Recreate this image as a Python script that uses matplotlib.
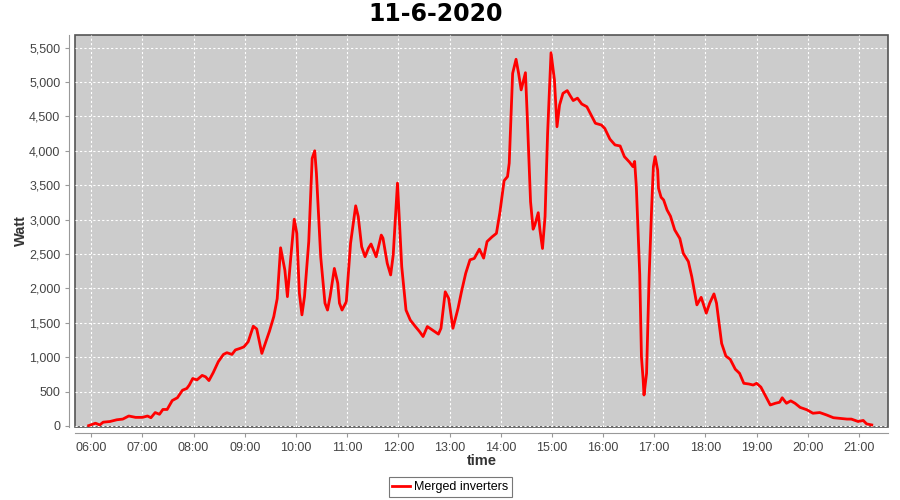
import numpy as np
import matplotlib
matplotlib.use("Agg")
import matplotlib.pyplot as plt
from matplotlib.ticker import FuncFormatter, MultipleLocator

# readings of the merged inverters, 11-6-2020
times = [
    "05:57", "06:05", "06:10", "06:14", "06:22", "06:30", "06:37", "06:44", "06:52", "07:00",
    "07:06", "07:10", "07:15", "07:20", "07:24", "07:29", "07:35", "07:41", "07:47", "07:52",
    "07:55", "07:59", "08:04", "08:10", "08:14", "08:18", "08:23", "08:29", "08:35", "08:39",
    "08:45", "08:49", "08:55", "08:59", "09:04", "09:10", "09:14", "09:20", "09:24", "09:29",
    "09:34", "09:38", "09:42", "09:47", "09:50", "09:54", "09:58", "10:01", "10:04", "10:07",
    "10:10", "10:15", "10:19", "10:22", "10:24", "10:29", "10:34", "10:37", "10:40", "10:45",
    "10:49", "10:51", "10:54", "10:59", "11:04", "11:10", "11:13", "11:17", "11:21", "11:25",
    "11:28", "11:34", "11:40", "11:42", "11:47", "11:51", "11:54", "11:59", "12:04", "12:09",
    "12:14", "12:20", "12:25", "12:29", "12:34", "12:40", "12:47", "12:50", "12:55", "12:59",
    "13:04", "13:10", "13:14", "13:19", "13:24", "13:29", "13:35", "13:40", "13:44", "13:50",
    "13:55", "13:59", "14:04", "14:08", "14:10", "14:14", "14:18", "14:21", "14:24", "14:29",
    "14:31", "14:35", "14:38", "14:40", "14:44", "14:46", "14:49", "14:52", "14:55", "14:59",
    "15:03", "15:06", "15:09", "15:13", "15:18", "15:21", "15:25", "15:30", "15:35", "15:41",
    "15:45", "15:51", "15:58", "16:02", "16:08", "16:14", "16:20", "16:25", "16:31", "16:35",
    "16:37", "16:39", "16:43", "16:45", "16:47", "16:48", "16:51", "16:54", "16:57", "16:59",
    "17:01", "17:04", "17:05", "17:08", "17:11", "17:15", "17:19", "17:24", "17:30", "17:34",
    "17:40", "17:44", "17:50", "17:55", "18:01", "18:05", "18:10", "18:13", "18:19", "18:24",
    "18:29", "18:35", "18:40", "18:45", "18:51", "18:56", "19:00", "19:05", "19:11", "19:16",
    "19:22", "19:27", "19:30", "19:35", "19:40", "19:45", "19:51", "19:59", "20:06", "20:14",
    "20:22", "20:30", "20:38", "20:46", "20:51", "20:59", "21:05", "21:09", "21:15",
]
watt = [
    5, 40, 15, 55, 65, 90, 100, 145, 125, 125,
    145, 120, 195, 170, 240, 240, 370, 410, 520, 545,
    595, 690, 670, 735, 715, 660, 775, 935, 1040, 1065,
    1040, 1105, 1130, 1150, 1225, 1450, 1410, 1055, 1200, 1380,
    1590, 1850, 2590, 2265, 1880, 2460, 3005, 2800, 1930, 1615,
    1880, 2680, 3890, 4000, 3670, 2460, 1785, 1685, 1880, 2290,
    2075, 1785, 1685, 1805, 2655, 3200, 3045, 2605, 2460, 2585,
    2645, 2460, 2775, 2730, 2365, 2195, 2485, 3530, 2315, 1685,
    1540, 1445, 1370, 1300, 1445, 1395, 1335, 1420, 1950, 1855,
    1420, 1710, 1950, 2220, 2415, 2435, 2570, 2440, 2680, 2750,
    2800, 3100, 3565, 3625, 3820, 5125, 5330, 5125, 4885, 5135,
    4545, 3260, 2860, 2920, 3100, 2850, 2580, 3045, 4255, 5425,
    5030, 4350, 4665, 4835, 4875, 4810, 4730, 4765, 4680, 4640,
    4545, 4400, 4375, 4325, 4170, 4085, 4070, 3915, 3835, 3770,
    3845, 3480, 2200, 1005, 670, 450, 765, 2170, 3190, 3770,
    3915, 3720, 3455, 3325, 3285, 3140, 3050, 2850, 2725, 2510,
    2390, 2170, 1760, 1870, 1640, 1785, 1920, 1785, 1200, 1015,
    970, 825, 765, 620, 610, 595, 620, 565, 425, 305,
    330, 345, 410, 330, 365, 330, 270, 235, 185, 195,
    160, 120, 110, 100, 100, 65, 80, 30, 15,
]
hour_ticks = ["06:00", "07:00", "08:00", "09:00", "10:00", "11:00", "12:00", "13:00",
              "14:00", "15:00", "16:00", "17:00", "18:00", "19:00", "20:00", "21:00"]


def to_hours(s):
    h, m = s.split(":")
    return int(h) + int(m) / 60.0


x = np.array([to_hours(t) for t in times])
y = np.array(watt)

plt.rcParams["font.family"] = ["Liberation Sans", "DejaVu Sans"]

fig = plt.figure(figsize=(9, 5), dpi=100)
ax = fig.add_axes([75 / 900, 73 / 500, 813 / 900, 392 / 500])
ax.set_facecolor("#cccccc")
ax.patch.set_edgecolor("#555555")
ax.patch.set_linewidth(1.2)

ax.plot(x, y, color="#ff0000", lw=2, label="Merged inverters", solid_joinstyle="round")

ax.set_xlim(5.683, 21.567)
ax.set_ylim(-15, 5683)
ax.set_xticks([to_hours(t) for t in hour_ticks])
ax.set_xticklabels(hour_ticks)
ax.yaxis.set_major_locator(MultipleLocator(500))
ax.yaxis.set_major_formatter(FuncFormatter(lambda v, p: f"{int(v):,}"))

ax.grid(True, color="white", ls=(0, (2, 2)), lw=0.8)
ax.set_axisbelow(True)

for s in ("top", "right"):
    ax.spines[s].set_visible(False)
for s in ("left", "bottom"):
    ax.spines[s].set_position(("outward", 4))
    ax.spines[s].set_color("#999999")
ax.tick_params(colors="#999999", labelcolor="#444444", labelsize=9, length=3)

ax.set_xlabel("time", fontsize=10.5, fontweight="bold", color="#333333", labelpad=0)
ax.set_ylabel("Watt", fontsize=10.5, fontweight="bold", color="#333333", labelpad=1)
fig.text(436 / 900, 1 - 14 / 500, "11-6-2020", fontsize=17, fontweight="bold",
         family="DejaVu Sans", ha="center", va="center")

leg = fig.legend(loc="center", bbox_to_anchor=(0.5, 0.026), fancybox=False,
                 edgecolor="#555555", fontsize=9, handlelength=1.4,
                 borderpad=0.3, handletextpad=0.3, borderaxespad=0)
leg.get_frame().set_linewidth(0.8)

fig.savefig("out.png", dpi=100, facecolor="white")
